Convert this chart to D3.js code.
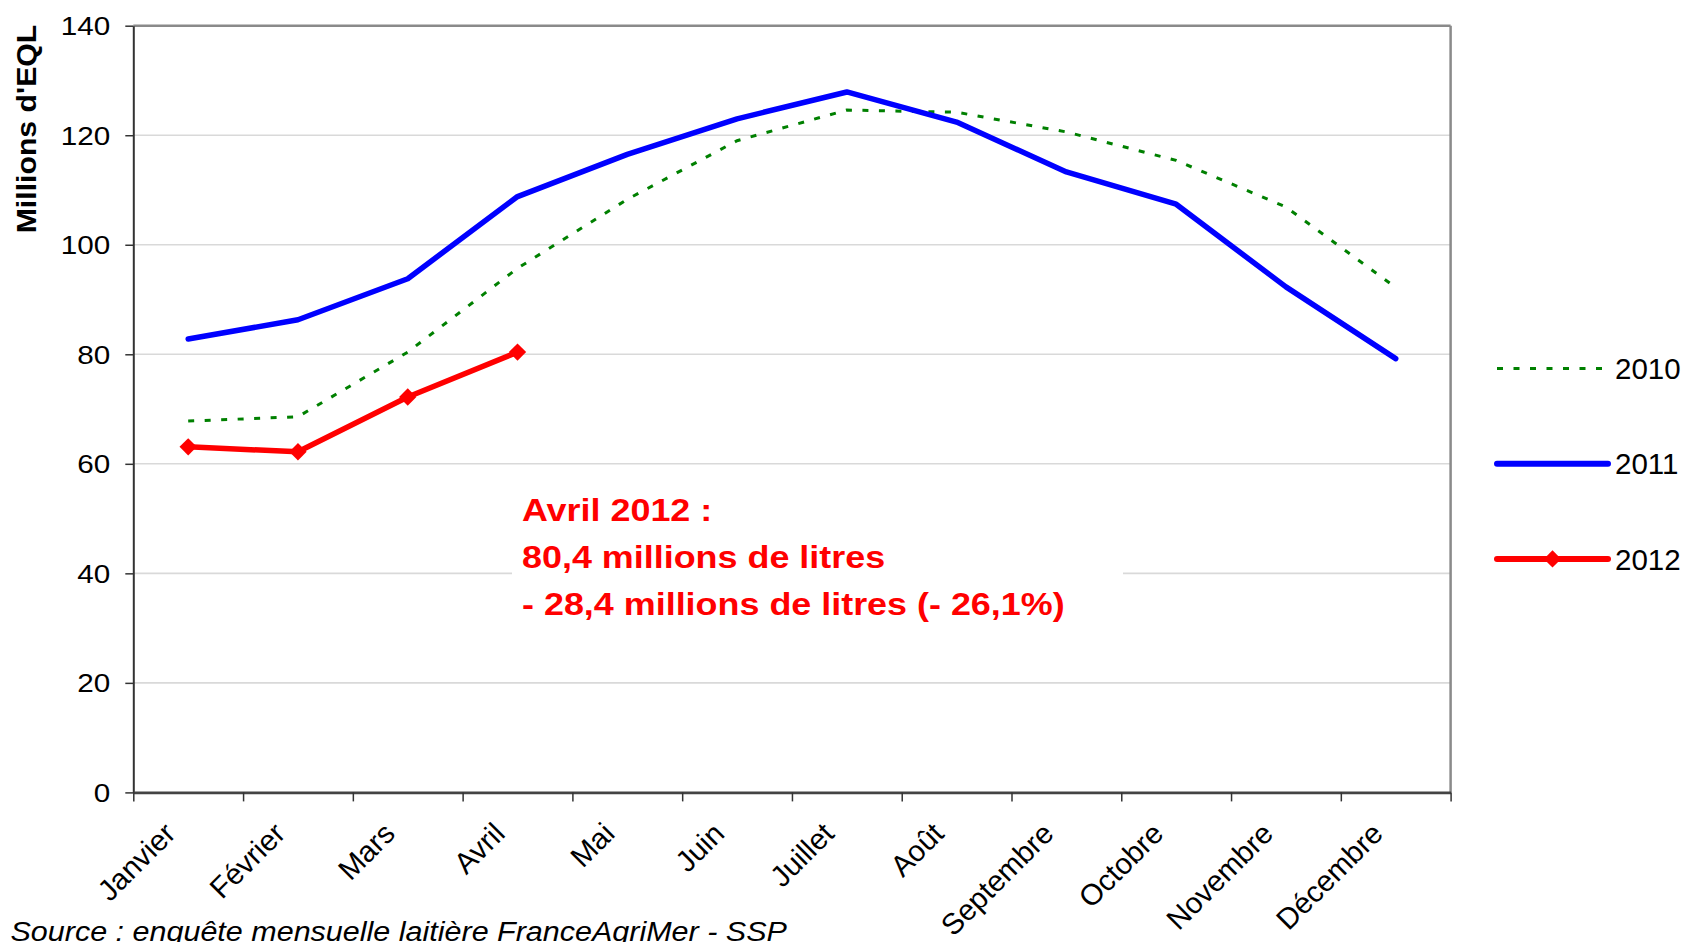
<!DOCTYPE html>
<html>
<head>
<meta charset="utf-8">
<script src="https://cdn.jsdelivr.net/npm/d3@7"></script>
<style>
  html, body { margin: 0; padding: 0; background: #ffffff; }
  svg { display: block; }
</style>
</head>
<body>
<svg id="chart" width="1686" height="942"></svg>
<script>
// ---- Data ----
const months = ["Janvier","Février","Mars","Avril","Mai","Juin","Juillet","Août","Septembre","Octobre","Novembre","Décembre"];
const values2010 = [67.8, 68.6, 80.4, 95.7, 108.3, 119.0, 124.6, 124.2, 120.6, 115.4, 106.9, 92.2];
const values2011 = [82.8, 86.3, 93.8, 108.8, 116.5, 123.0, 127.9, 122.4, 113.3, 107.4, 92.3, 79.2];
const values2012 = [63.1, 62.2, 72.2, 80.4];
const seriesNames = ["2010", "2011", "2012"];
const yTicks = [0, 20, 40, 60, 80, 100, 120, 140];
const yLabel = "Millions d'EQL";
const annotationLines = ["Avril 2012 :", "80,4 millions de litres", "- 28,4 millions de litres (- 26,1%)"];
const sourceText = "Source : enquête mensuelle laitière FranceAgriMer - SSP";

// ---- Layout ----
const FONT = "'Liberation Sans', Arial, Helvetica, sans-serif";
const L = 133.3, R = 1450.6, T = 25.7, B = 792.4;

const svg = d3.select("#chart");
svg.append("rect").attr("width", 1686).attr("height", 942).attr("fill", "#fff");

const x = d3.scaleBand().domain(months).range([L, R]).padding(0);
const xb = d3.scaleLinear().domain([0, months.length]).range([L, R]);
const y = d3.scaleLinear().domain([0, 140]).range([B, T]);
const cx = m => x(m) + x.bandwidth() / 2;

function sText(parent, px, py, txt, opts) {
  const t = parent.append("text")
    .attr("transform", `translate(${px},${py}) ${opts.rotate ? "rotate(" + opts.rotate + ")" : ""} scale(${opts.sx || 1},1)`)
    .attr("font-family", FONT)
    .attr("font-size", opts.size)
    .attr("fill", opts.fill || "#000")
    .attr("text-anchor", opts.anchor || "start")
    .text(txt);
  if (opts.weight) t.attr("font-weight", opts.weight);
  if (opts.style) t.attr("font-style", opts.style);
  if (opts.dy) t.attr("dy", opts.dy);
  return t;
}

// Gridlines
svg.append("g").selectAll("line").data(yTicks.filter(v => v > 0 && v < 140)).join("line")
  .attr("x1", L).attr("x2", R)
  .attr("y1", d => y(d)).attr("y2", d => y(d))
  .attr("stroke", "#d9d9d9").attr("stroke-width", 1.6);

// Annotation background box (hides gridline)
svg.append("rect").attr("x", 512).attr("y", 478).attr("width", 611).attr("height", 160).attr("fill", "#fff");

// Plot border top & right
svg.append("line").attr("x1", L).attr("x2", R).attr("y1", y(140)).attr("y2", y(140))
  .attr("stroke", "#8a8a8a").attr("stroke-width", 2.5);
svg.append("line").attr("x1", R).attr("x2", R).attr("y1", y(140)).attr("y2", B)
  .attr("stroke", "#8a8a8a").attr("stroke-width", 2.5);

// Y axis
const yAxis = d3.axisLeft(y).tickValues(yTicks).tickSize(8).tickSizeOuter(0).tickFormat("");
const gy = svg.append("g").attr("transform", `translate(${L},0)`).call(yAxis);
gy.select(".domain").attr("stroke", "#333").attr("stroke-width", 2);
gy.selectAll(".tick line").attr("stroke", "#333").attr("stroke-width", 1.5);
yTicks.forEach(v => {
  sText(svg, L - 23, y(v), String(v), { size: 26.5, sx: 1.12, anchor: "end", dy: "0.36em" });
});

// X axis (ticks at band boundaries)
const xAxis = d3.axisBottom(xb).tickValues(d3.range(0, months.length + 1)).tickSize(9).tickSizeOuter(0).tickFormat("");
const gx = svg.append("g").attr("transform", `translate(0,${B})`).call(xAxis);
gx.select(".domain").attr("stroke", "#444").attr("stroke-width", 2.6);
gx.selectAll(".tick line").attr("stroke", "#333").attr("stroke-width", 1.5);
months.forEach(m => {
  sText(svg, cx(m) - 11, B + 43, m, { size: 29.5, anchor: "end", rotate: -45 });
});

// Y label
sText(svg, 36, 129, yLabel, { size: 28, weight: "bold", anchor: "middle", rotate: -90, sx: 1.08 });

// Lines
const line = d3.line().x((d, i) => cx(months[i])).y(d => y(d));
svg.append("path").datum(values2010).attr("d", line)
  .attr("fill", "none").attr("stroke", "#008000").attr("stroke-width", 3)
  .attr("stroke-dasharray", "6,10.5");
svg.append("path").datum(values2011).attr("d", line)
  .attr("fill", "none").attr("stroke", "#0000ff").attr("stroke-width", 5.5)
  .attr("stroke-linejoin", "round").attr("stroke-linecap", "round");
svg.append("path").datum(values2012).attr("d", line)
  .attr("fill", "none").attr("stroke", "#ff0000").attr("stroke-width", 5.5)
  .attr("stroke-linejoin", "round");
const diamond = d3.symbol().type(d3.symbolSquare).size(150);
svg.append("g").selectAll("path").data(values2012).join("path")
  .attr("d", diamond)
  .attr("transform", (d, i) => `translate(${cx(months[i])},${y(d)}) rotate(45)`)
  .attr("fill", "#ff0000");

// Annotation
annotationLines.forEach((txt, i) => {
  sText(svg, 522, 520.7 + i * 47.2, txt, { size: 31.5, weight: "bold", sx: 1.14, fill: "#ff0000" });
});

// Legend
const legX1 = 1497, legX2 = 1608, legY0 = 368.5, legStep = 95.2;
const lg = svg.append("g");
seriesNames.forEach((name, i) => {
  const ly = legY0 + i * legStep;
  const ln = lg.append("line").attr("x1", legX1).attr("x2", legX2).attr("y1", ly).attr("y2", ly);
  if (i === 0) ln.attr("stroke", "#008000").attr("stroke-width", 3).attr("stroke-dasharray", "6,10.5");
  if (i === 1) ln.attr("stroke", "#0000ff").attr("stroke-width", 6).attr("stroke-linecap", "round");
  if (i === 2) {
    ln.attr("stroke", "#ff0000").attr("stroke-width", 6).attr("stroke-linecap", "round");
    lg.append("path").attr("d", diamond)
      .attr("transform", `translate(${(legX1 + legX2) / 2},${ly}) rotate(45)`).attr("fill", "#ff0000");
  }
  sText(lg, legX2 + 7, ly, name, { size: 29.5, dy: "0.36em" });
});

// Source
sText(svg, 10.5, 941, sourceText, { size: 28, style: "italic", sx: 1.09 });
</script>
</body>
</html>
